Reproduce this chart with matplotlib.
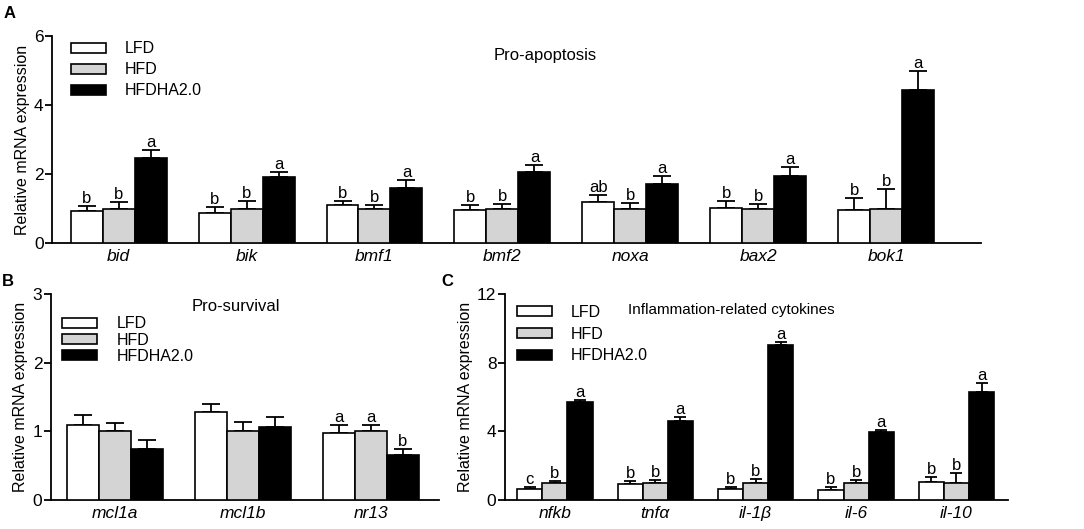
import matplotlib
matplotlib.use('Agg')
import matplotlib.pyplot as plt
import numpy as np

plt.rcParams['font.family'] = ['Liberation Sans', 'DejaVu Sans']
plt.rcParams['font.size'] = 11

groups = ['LFD', 'HFD', 'HFDHA2.0']
colors = ['white', '#d4d4d4', 'black']

# panel A - pro-apoptosis
genes_a = ['bid', 'bik', 'bmf1', 'bmf2', 'noxa', 'bax2', 'bok1']
lfd_a = [0.94, 0.87, 1.10, 0.96, 1.20, 1.03, 0.95]
lfd_a_err = [0.12, 0.18, 0.13, 0.15, 0.20, 0.18, 0.37]
hfd_a = [1.0, 1.0, 1.0, 1.0, 1.0, 1.0, 1.0]
hfd_a_err = [0.19, 0.22, 0.09, 0.12, 0.17, 0.14, 0.57]
dha_a = [2.46, 1.91, 1.61, 2.06, 1.71, 1.93, 4.44]
dha_a_err = [0.24, 0.16, 0.22, 0.20, 0.23, 0.28, 0.56]
sig_a = [['b', 'b', 'b', 'b', 'ab', 'b', 'b'],
         ['b', 'b', 'b', 'b', 'b', 'b', 'b'],
         ['a', 'a', 'a', 'a', 'a', 'a', 'a']]

# panel B - pro-survival
genes_b = ['mcl1a', 'mcl1b', 'nr13']
lfd_b = [1.09, 1.29, 0.98]
lfd_b_err = [0.15, 0.11, 0.12]
hfd_b = [1.0, 1.0, 1.0]
hfd_b_err = [0.12, 0.14, 0.10]
dha_b = [0.75, 1.06, 0.65]
dha_b_err = [0.12, 0.15, 0.10]
sig_b = [['', '', 'a'], ['', '', 'a'], ['', '', 'b']]

# panel C - inflammation
genes_c = ['nfkb', 'tnfα', 'il-1β', 'il-6', 'il-10']
lfd_c = [0.66, 0.91, 0.64, 0.60, 1.03]
lfd_c_err = [0.10, 0.20, 0.10, 0.14, 0.29]
hfd_c = [0.99, 1.0, 1.0, 1.0, 0.99]
hfd_c_err = [0.10, 0.17, 0.20, 0.15, 0.58]
dha_c = [5.71, 4.58, 9.05, 3.96, 6.29]
dha_c_err = [0.13, 0.24, 0.17, 0.14, 0.56]
sig_c = [['c', 'b', 'b', 'b', 'b'],
         ['b', 'b', 'b', 'b', 'b'],
         ['a', 'a', 'a', 'a', 'a']]


def draw_panel(ax, genes, means, errs, sigs, capsize, yticks, xlim, title, title_pos,
               title_size, leg_anchor, leg_spacing):
    x = np.arange(len(genes))
    w = 0.25
    for k in range(3):
        pos = x + (k - 1) * w
        ax.bar(pos, means[k], width=w, color=colors[k], edgecolor='black',
               linewidth=1.2, label=groups[k], zorder=3)
        ax.errorbar(pos, means[k], yerr=[np.zeros(len(genes)), errs[k]], fmt='none',
                    ecolor='black', elinewidth=1.3, capsize=capsize, capthick=1.3, zorder=2)
        for p, m, e, s in zip(pos, means[k], errs[k], sigs[k]):
            if s:
                ax.annotate(s, (p, m + e), xytext=(0, 0), textcoords='offset points',
                            ha='center', va='bottom', fontsize=12)
    ax.set_xticks(x)
    ax.set_xticklabels(genes, style='italic')
    ax.set_xlim(*xlim)
    ax.set_ylim(yticks[0], yticks[-1])
    ax.set_yticks(yticks)
    ax.spines['top'].set_visible(False)
    ax.spines['right'].set_visible(False)
    ax.spines['left'].set_linewidth(1.3)
    ax.spines['bottom'].set_linewidth(1.3)
    ax.tick_params(axis='x', length=0, pad=4, labelsize=12.5)
    ax.tick_params(axis='y', length=5, width=1.3, pad=1, labelsize=12.5)
    ax.set_ylabel('Relative mRNA expression', fontsize=11.5, labelpad=3)
    ax.text(title_pos[0], title_pos[1], title, transform=ax.transAxes,
            ha='center', va='center', fontsize=title_size)
    ax.legend(loc='upper left', bbox_to_anchor=leg_anchor, frameon=False,
              borderpad=0, borderaxespad=0, handlelength=2.2, handleheight=0.6,
              handletextpad=1.2, labelspacing=leg_spacing, fontsize=11.5)


fig = plt.figure(figsize=(10.84, 5.29), dpi=100)
ax_a = fig.add_axes([0.048, 0.5406, 0.857, 0.391])
ax_b = fig.add_axes([0.0468, 0.0548, 0.358, 0.389])
ax_c = fig.add_axes([0.4656, 0.0548, 0.464, 0.389])

draw_panel(ax_a, genes_a, [lfd_a, hfd_a, dha_a], [lfd_a_err, hfd_a_err, dha_a_err], sig_a,
           6.5, [0, 2, 4, 6], (-0.52, 6.74), 'Pro-apoptosis', (0.531, 0.908), 12,
           (0.02, 0.975), 0.38)
draw_panel(ax_b, genes_b, [lfd_b, hfd_b, dha_b], [lfd_b_err, hfd_b_err, dha_b_err], sig_b,
           6.5, [0, 1, 2, 3], (-0.5, 2.53), 'Pro-survival', (0.477, 0.942), 12,
           (0.029, 0.893), 0.08)
draw_panel(ax_c, genes_c, [lfd_c, hfd_c, dha_c], [lfd_c_err, hfd_c_err, dha_c_err], sig_c,
           4, [0, 4, 8, 12], (-0.5, 4.51), 'Inflammation-related cytokines', (0.45, 0.922), 11,
           (0.024, 0.948), 0.42)

fig.text(10 / 1084, 1 - 14 / 529, 'A', fontsize=12, fontweight='bold', ha='center', va='center')
fig.text(8 / 1084, 1 - 282 / 529, 'B', fontsize=12, fontweight='bold', ha='center', va='center')
fig.text(447 / 1084, 1 - 282 / 529, 'C', fontsize=12, fontweight='bold', ha='center', va='center')

fig.savefig('out.png', dpi=100)
